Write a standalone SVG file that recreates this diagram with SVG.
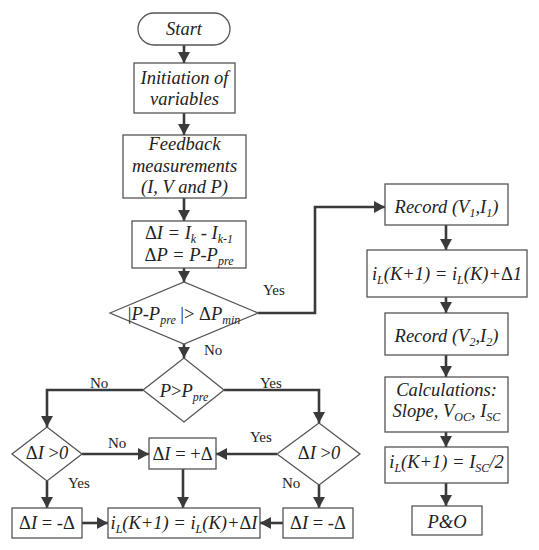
<svg xmlns="http://www.w3.org/2000/svg" width="539" height="550" viewBox="0 0 539 550">
<defs>
<marker id="ah" markerUnits="userSpaceOnUse" markerWidth="14" markerHeight="14" refX="11" refY="6" orient="auto">
<path d="M0,0 L11,6 L0,12 Z" fill="#3a3a3a"/>
</marker>
<style>
.b{fill:#fff;stroke:#555;stroke-width:1.3}
.c{fill:none;stroke:#3a3a3a;stroke-width:2.6;marker-end:url(#ah)}
.t{font-family:"Liberation Serif","Times New Roman",serif;font-size:18.5px;font-style:italic;fill:#222;text-anchor:middle}
.u{font-style:normal}
.s{font-size:12px}
.l{font-family:"Liberation Serif","Times New Roman",serif;font-size:15px;fill:#222}
</style>
</defs>
<rect width="539" height="550" fill="#fff"/>
<g id="connectors">
<path class="c" d="M184,45 V63"/>
<path class="c" d="M184,113 V135"/>
<path class="c" d="M184,198 V221"/>
<path class="c" d="M184,268 V282"/>
<path class="c" d="M184,344 V358"/>
<path class="c" d="M258,313 H315 V207 H385"/>
<path class="c" d="M143,390 H47 V427"/>
<path class="c" d="M224,390 H319 V423"/>
<path class="c" d="M82,454 H149"/>
<path class="c" d="M277,454 H216"/>
<path class="c" d="M47,481 V508"/>
<path class="c" d="M183,469 V508"/>
<path class="c" d="M319,485 V508"/>
<path class="c" d="M82,523 H108"/>
<path class="c" d="M283,523 H260"/>
<path class="c" d="M446,225 V250"/>
<path class="c" d="M446,297 V313"/>
<path class="c" d="M446,355 V377"/>
<path class="c" d="M446,432 V447"/>
<path class="c" d="M446,483 V506"/>
</g>
<g id="labels">
<text class="l" x="263" y="295">Yes</text>
<text class="l" x="204" y="355">No</text>
<text class="l" x="90" y="388">No</text>
<text class="l" x="260" y="388">Yes</text>
<text class="l" x="108" y="448">No</text>
<text class="l" x="68" y="488">Yes</text>
<text class="l" x="250" y="442">Yes</text>
<text class="l" x="282" y="488">No</text>
</g>
<g id="start">
<rect class="b" x="138" y="13" width="92" height="32" rx="16"/>
<text class="t" x="184" y="35">Start</text>
</g>
<g id="init">
<rect class="b" x="134" y="63" width="101" height="50"/>
<text class="t" x="184.5" y="84">Initiation of</text>
<text class="t" x="184.5" y="105">variables</text>
</g>
<g id="feedback">
<rect class="b" x="123" y="135" width="123" height="63"/>
<text class="t" x="184.5" y="150">Feedback</text>
<text class="t" x="184.5" y="172">measurements</text>
<text class="t" x="184.5" y="193">(I, V and P)</text>
</g>
<g id="delta">
<rect class="b" x="132" y="221" width="114" height="47"/>
<text class="t" x="189" y="239"><tspan class="u">Δ</tspan>I = I<tspan class="s" dy="4">k</tspan><tspan dy="-4"> - I</tspan><tspan class="s" dy="4">k-1</tspan></text>
<text class="t" x="189" y="261"><tspan class="u">Δ</tspan>P = P-P<tspan class="s" dy="4">pre</tspan></text>
</g>
<g id="check-dp">
<polygon class="b" points="110,313 184,282 258,313 184,344"/>
<text class="t" x="184" y="320"><tspan class="u">|</tspan>P-P<tspan class="s" dy="4">pre</tspan><tspan class="u" dy="-4"> |&gt; Δ</tspan>P<tspan class="s" dy="4">min</tspan></text>
</g>
<g id="check-p">
<polygon class="b" points="143,390 184,358 224,390 184,422"/>
<text class="t" x="184" y="397">P<tspan class="u">&gt;</tspan>P<tspan class="s" dy="4">pre</tspan></text>
</g>
<g id="check-di-left">
<polygon class="b" points="12,454 47,427 82,454 47,481"/>
<text class="t" x="47" y="459"><tspan class="u">Δ</tspan>I <tspan class="u">&gt;</tspan>0</text>
</g>
<g id="plus">
<rect class="b" x="149" y="438" width="67" height="31"/>
<text class="t" x="182.5" y="460"><tspan class="u">Δ</tspan>I <tspan class="u">= +Δ</tspan></text>
</g>
<g id="minus-left">
<rect class="b" x="12" y="508" width="70" height="30"/>
<text class="t" x="47" y="529"><tspan class="u">Δ</tspan>I <tspan class="u">= -Δ</tspan></text>
</g>
<g id="update">
<rect class="b" x="108" y="508" width="152" height="30"/>
<text class="t" x="184" y="529">i<tspan class="s" dy="4">L</tspan><tspan dy="-4">(K+1) = i</tspan><tspan class="s" dy="4">L</tspan><tspan dy="-4">(K)+</tspan><tspan class="u">Δ</tspan>I</text>
</g>
<g id="check-di-right">
<polygon class="b" points="277,454 319,423 360,454 319,485"/>
<text class="t" x="319" y="459"><tspan class="u">Δ</tspan>I <tspan class="u">&gt;</tspan>0</text>
</g>
<g id="minus-right">
<rect class="b" x="283" y="508" width="70" height="30"/>
<text class="t" x="318" y="529"><tspan class="u">Δ</tspan>I <tspan class="u">= -Δ</tspan></text>
</g>
<g id="record1">
<rect class="b" x="385" y="184" width="123" height="41"/>
<text class="t" x="446.5" y="213">Record (V<tspan class="s" dy="4">1</tspan><tspan dy="-4">,I</tspan><tspan class="s" dy="4">1</tspan><tspan dy="-4">)</tspan></text>
</g>
<g id="step">
<rect class="b" x="367" y="250" width="160" height="47"/>
<text class="t" x="447" y="280">i<tspan class="s" dy="4">L</tspan><tspan dy="-4">(K+1) = i</tspan><tspan class="s" dy="4">L</tspan><tspan dy="-4">(K)+</tspan><tspan class="u">Δ</tspan>1</text>
</g>
<g id="record2">
<rect class="b" x="385" y="313" width="123" height="42"/>
<text class="t" x="446.5" y="342">Record (V<tspan class="s" dy="4">2</tspan><tspan dy="-4">,I</tspan><tspan class="s" dy="4">2</tspan><tspan dy="-4">)</tspan></text>
</g>
<g id="calc">
<rect class="b" x="385" y="377" width="123" height="55"/>
<text class="t" x="446.5" y="396">Calculations:</text>
<text class="t" x="446.5" y="417">Slope, V<tspan class="s" dy="4">OC</tspan><tspan dy="-4">, I</tspan><tspan class="s" dy="4">SC</tspan></text>
</g>
<g id="isc">
<rect class="b" x="385" y="447" width="123" height="36"/>
<text class="t" x="446.5" y="468">i<tspan class="s" dy="4">L</tspan><tspan dy="-4">(K+1) = I</tspan><tspan class="s" dy="4">SC</tspan><tspan dy="-4">/2</tspan></text>
</g>
<g id="po">
<rect class="b" x="412" y="506" width="70" height="29"/>
<text class="t" x="447" y="528">P&amp;O</text>
</g>
</svg>
